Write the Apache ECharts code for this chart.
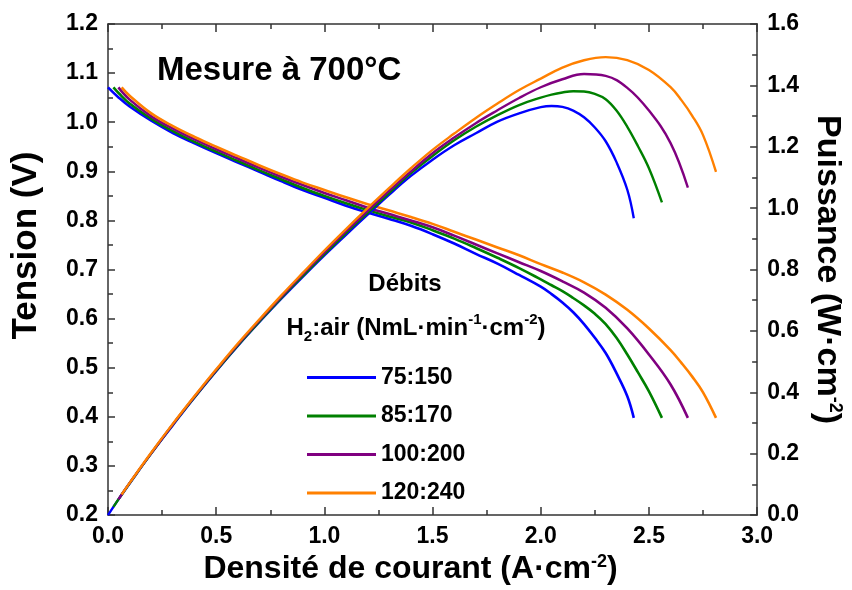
<!DOCTYPE html>
<html><head><meta charset="utf-8">
<script src="https://cdn.jsdelivr.net/npm/echarts@6/dist/echarts.min.js"></script>
<style>html,body{margin:0;padding:0;background:#fff}#c{width:852px;height:590px}</style>
</head><body><div id="c"></div>
<script>
// ---- data ----
const seriesNames = ['75:150', '85:170', '100:200', '120:240'];
const seriesColors = ['#0000FF', '#008000', '#800080', '#FF8000'];

const iBlue = [0, 0.05, 0.1, 0.2, 0.3, 0.4, 0.5, 0.6, 0.7, 0.8, 0.9, 1.0, 1.1, 1.2, 1.3, 1.4, 1.5, 1.6, 1.7, 1.8, 1.9, 2.0, 2.05, 2.1, 2.15, 2.2, 2.25, 2.3, 2.35, 2.4, 2.43];
const vBlue = [1.071, 1.050, 1.032, 1.003, 0.978, 0.957, 0.937, 0.918, 0.899, 0.880, 0.862, 0.846, 0.830, 0.816, 0.803, 0.789, 0.772, 0.753, 0.732, 0.712, 0.689, 0.665, 0.650, 0.633, 0.613, 0.589, 0.561, 0.530, 0.489, 0.442, 0.398];
const pBlue = [0, 0.053, 0.103, 0.201, 0.293, 0.383, 0.469, 0.551, 0.629, 0.704, 0.776, 0.846, 0.913, 0.979, 1.044, 1.105, 1.158, 1.205, 1.244, 1.282, 1.309, 1.329, 1.333, 1.330, 1.318, 1.296, 1.263, 1.218, 1.150, 1.060, 0.967];

const iGreen = [0.025, 0.05, 0.1, 0.2, 0.3, 0.4, 0.5, 0.6, 0.7, 0.8, 0.9, 1.0, 1.1, 1.2, 1.3, 1.4, 1.5, 1.6, 1.7, 1.8, 1.9, 2.0, 2.05, 2.1, 2.15, 2.2, 2.25, 2.3, 2.35, 2.4, 2.45, 2.5, 2.56];
const vGreen = [1.071, 1.059, 1.038, 1.007, 0.982, 0.960, 0.940, 0.921, 0.902, 0.884, 0.866, 0.850, 0.835, 0.821, 0.808, 0.796, 0.780, 0.763, 0.744, 0.724, 0.703, 0.680, 0.668, 0.656, 0.642, 0.627, 0.610, 0.589, 0.561, 0.527, 0.490, 0.452, 0.398];
const pGreen = [0.027, 0.053, 0.104, 0.201, 0.295, 0.384, 0.470, 0.553, 0.631, 0.707, 0.779, 0.850, 0.919, 0.985, 1.050, 1.114, 1.170, 1.221, 1.265, 1.303, 1.336, 1.360, 1.370, 1.377, 1.381, 1.380, 1.372, 1.355, 1.318, 1.265, 1.201, 1.130, 1.019];

const iPurple = [0.048, 0.1, 0.2, 0.3, 0.4, 0.5, 0.6, 0.7, 0.8, 0.9, 1.0, 1.1, 1.2, 1.3, 1.4, 1.5, 1.6, 1.7, 1.8, 1.9, 2.0, 2.1, 2.2, 2.3, 2.4, 2.5, 2.6, 2.68];
const vPurple = [1.071, 1.046, 1.012, 0.987, 0.965, 0.945, 0.926, 0.907, 0.889, 0.872, 0.856, 0.841, 0.826, 0.813, 0.800, 0.786, 0.769, 0.751, 0.733, 0.715, 0.697, 0.676, 0.653, 0.622, 0.580, 0.527, 0.466, 0.398];
const pPurple = [0.051, 0.105, 0.202, 0.296, 0.386, 0.473, 0.556, 0.635, 0.711, 0.785, 0.856, 0.925, 0.991, 1.057, 1.120, 1.179, 1.230, 1.277, 1.319, 1.359, 1.394, 1.420, 1.437, 1.431, 1.392, 1.318, 1.212, 1.067];

const iOrange = [0.063, 0.1, 0.2, 0.3, 0.4, 0.5, 0.6, 0.7, 0.8, 0.9, 1.0, 1.1, 1.2, 1.3, 1.4, 1.5, 1.6, 1.7, 1.8, 1.9, 2.0, 2.1, 2.2, 2.3, 2.4, 2.5, 2.6, 2.65, 2.7, 2.75, 2.81];
const vOrange = [1.071, 1.054, 1.018, 0.992, 0.970, 0.950, 0.931, 0.912, 0.894, 0.877, 0.862, 0.847, 0.833, 0.820, 0.807, 0.793, 0.777, 0.761, 0.745, 0.729, 0.711, 0.694, 0.674, 0.649, 0.618, 0.580, 0.536, 0.510, 0.482, 0.450, 0.398];
const pOrange = [0.067, 0.105, 0.204, 0.298, 0.388, 0.475, 0.559, 0.638, 0.715, 0.789, 0.862, 0.932, 1.000, 1.066, 1.130, 1.190, 1.243, 1.294, 1.341, 1.385, 1.422, 1.458, 1.482, 1.492, 1.482, 1.450, 1.394, 1.352, 1.301, 1.238, 1.118];

const xTicks = ['0.0', '0.5', '1.0', '1.5', '2.0', '2.5', '3.0'];
const titleText = 'Mesure à 700°C';

// ---- build ----
const currents = [iBlue, iGreen, iPurple, iOrange];
const volts = [vBlue, vGreen, vPurple, vOrange];
const powers = [pBlue, pGreen, pPurple, pOrange];
const zip = (a, b) => a.map((x, k) => [x, b[k]]);

const FONT = '"Liberation Sans", Arial, sans-serif';
const axisLineStyle = { color: '#333', width: 1.5 };
const series = [];
for (let s = 0; s < 4; s++) {
  series.push({
    name: seriesNames[s], type: 'line', xAxisIndex: 0, yAxisIndex: 0,
    data: zip(currents[s], volts[s]), showSymbol: false, smooth: 0.4,
    lineStyle: { color: seriesColors[s], width: 2.6 }, itemStyle: { color: seriesColors[s] }, z: 3
  });
}
for (let s = 0; s < 4; s++) {
  series.push({
    name: seriesNames[s], type: 'line', xAxisIndex: 0, yAxisIndex: 1,
    data: zip(currents[s], powers[s]), showSymbol: false, smooth: 0.4,
    lineStyle: { color: seriesColors[s], width: 2.4 }, itemStyle: { color: seriesColors[s] }, z: 3
  });
}

const labelStyle = { color: '#000', fontFamily: FONT, fontWeight: 'bold', fontSize: 23 };
const nameRich = {
  sup: { fontSize: 18, fontWeight: 'bold', fontFamily: FONT, color: '#000', verticalAlign: 'top', lineHeight: 18 }
};

const option = {
  animation: false,
  backgroundColor: '#fff',
  grid: { left: 108, right: 94, top: 24, bottom: 68, containLabel: false },
  title: {
    text: titleText, left: 152, top: 49,
    textStyle: { fontFamily: FONT, fontWeight: 'bold', fontSize: 33, color: '#000' }
  },
  legend: {
    data: seriesNames, orient: 'vertical', left: 302, top: 361,
    icon: 'rect', itemWidth: 69, itemHeight: 3, itemGap: 15.5,
    selectedMode: false,
    textStyle: { fontFamily: FONT, fontWeight: 'bold', fontSize: 23, color: '#000', lineHeight: 22 }
  },
  graphic: [
    {
      type: 'text', x: 405, y: 284,
      style: { text: 'Débits', font: 'bold 24px ' + FONT, fill: '#000', align: 'center', verticalAlign: 'middle' }
    },
    {
      type: 'text', x: 416, y: 328,
      style: {
        text: '{a|H}{sub|2}{a|:air (NmL·min}{sup|-1}{a|·cm}{sup|-2}{a|)}',
        align: 'center', verticalAlign: 'middle',
        rich: {
          a: { font: 'bold 24px ' + FONT, fill: '#000', lineHeight: 32 },
          sub: { font: 'bold 15px ' + FONT, fill: '#000', verticalAlign: 'bottom', lineHeight: 15 },
          sup: { font: 'bold 15px ' + FONT, fill: '#000', verticalAlign: 'top', lineHeight: 15 }
        }
      }
    }
  ],
  xAxis: [
    {
      type: 'value', position: 'bottom', min: 0, max: 3, interval: 0.5,
      name: 'Densité de courant (A·cm{sup|-2})', nameLocation: 'middle', nameGap: 35,
      nameTextStyle: { fontFamily: FONT, fontWeight: 'bold', fontSize: 32, color: '#000', padding: [0, 44, 0, 0], rich: nameRich },
      axisLine: { show: true, onZero: false, lineStyle: axisLineStyle },
      axisTick: { show: true, inside: true, length: 8, lineStyle: axisLineStyle },
      minorTick: { show: true, splitNumber: 2, length: 5, lineStyle: axisLineStyle },
      splitLine: { show: false },
      axisLabel: Object.assign({ margin: 10, formatter: v => xTicks[Math.round(v / 0.5)] }, labelStyle)
    },
    {
      type: 'value', position: 'top', min: 0, max: 3, interval: 0.5,
      axisLine: { show: true, onZero: false, lineStyle: axisLineStyle },
      axisTick: { show: true, inside: true, length: 8, lineStyle: axisLineStyle },
      minorTick: { show: true, splitNumber: 2, length: 5, lineStyle: axisLineStyle },
      splitLine: { show: false }, axisLabel: { show: false }
    }
  ],
  yAxis: [
    {
      type: 'value', position: 'left', min: 0.2, max: 1.2, interval: 0.1,
      name: 'Tension (V)', nameLocation: 'middle', nameGap: 64,
      nameTextStyle: { fontFamily: FONT, fontWeight: 'bold', fontSize: 35, color: '#000', padding: [0, 0, 0, 48] },
      axisLine: { show: true, onZero: false, lineStyle: axisLineStyle },
      axisTick: { show: true, inside: true, length: 7, lineStyle: axisLineStyle },
      minorTick: { show: true, splitNumber: 2, length: 5, lineStyle: axisLineStyle },
      splitLine: { show: false },
      axisLabel: Object.assign({ margin: 10, formatter: v => v.toFixed(1) }, labelStyle)
    },
    {
      type: 'value', position: 'right', min: 0, max: 1.6, interval: 0.2,
      name: 'Puissance (W·cm{sup|-2})', nameLocation: 'middle', nameGap: 51, nameRotate: -90,
      nameTextStyle: { fontFamily: FONT, fontWeight: 'bold', fontSize: 34, color: '#000', padding: [0, 0, 0, 0], rich: nameRich },
      axisLine: { show: true, onZero: false, lineStyle: axisLineStyle },
      axisTick: { show: true, inside: true, length: 7, lineStyle: axisLineStyle },
      minorTick: { show: true, splitNumber: 2, length: 5, lineStyle: axisLineStyle },
      splitLine: { show: false },
      axisLabel: Object.assign({ margin: 10, formatter: v => v.toFixed(1) }, labelStyle)
    }
  ],
  series: series
};
const chart = echarts.init(document.getElementById('c'), null, { renderer: 'canvas' });
chart.setOption(option);
</script>
</body></html>
